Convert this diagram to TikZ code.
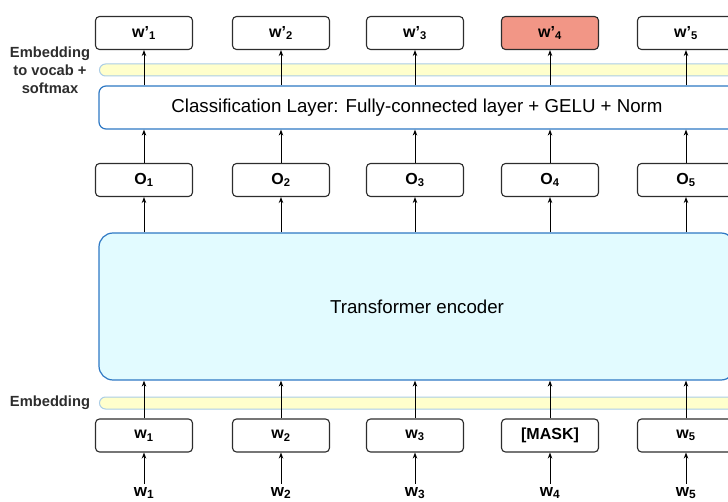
\documentclass[tikz,border=0pt]{standalone}
\usepackage{fontspec}
\setmainfont{Liberation Sans}
\usetikzlibrary{arrows.meta, positioning}
\definecolor{boxgray}{RGB}{45,45,45}
\definecolor{edgeblue}{RGB}{46,120,196}
\definecolor{bandblue}{RGB}{170,205,230}
\definecolor{bandyellow}{RGB}{255,255,204}
\definecolor{encfill}{RGB}{226,251,255}
\definecolor{maskred}{RGB}{242,150,134}

\begin{document}
\begin{tikzpicture}[x=1pt, y=-1pt, >={Stealth[length=6pt, width=4.5pt]},
  tok/.style={draw=boxgray, line width=1.1pt, fill=white, rounded corners=4pt,
    minimum width=97pt, minimum height=33pt, inner sep=0pt,
    font=\bfseries\fontsize{16}{18}\selectfont},
  layer/.style={draw=edgeblue, line width=1.2pt, fill=white, rounded corners=7pt,
    minimum width=636pt, inner sep=0pt, font=\fontsize{18.7}{22}\selectfont},
  band/.style={draw=bandblue, line width=1pt, fill=bandyellow, rounded corners=6pt,
    minimum width=650pt, minimum height=12pt, inner sep=0pt},
  side/.style={align=center, text=boxgray, font=\bfseries\fontsize{14.7}{18}\selectfont},
  link/.style={->, line width=0.9pt, draw=black}]
  \useasboundingbox (0,0) rectangle (728,502);
  \clip (0,0) rectangle (728,502);

  % bands and big layers
  \node[band, anchor=west] (topband) at (99,70) {};
  \node[band, anchor=west] (botband) at (99,403) {};
  \node[layer, minimum height=43pt] (cls) at (417,107.5)
    {Classification Layer: Fully-connected layer + GELU + Norm};
  \node[layer, fill=encfill, minimum height=147pt, rounded corners=14pt] (enc) at (417,306.5)
    {Transformer encoder};

  % side labels
  \node[side] (lbltop) at (50,70) {Embedding\\to vocab +\\softmax};
  \node[side] (lblbot) at (50,403) {Embedding};

  % token columns
  \foreach \i/\x in {1/144,2/281,3/415,4/550,5/686} {
    \ifnum\i=4
      \node[tok, fill=maskred] (out\i) at (\x,33) {w\textquoteright\textsubscript{\i}};
      \node[tok] (in\i) at (\x,435.5) {[MASK]};
    \else
      \node[tok] (out\i) at (\x,33) {w\textquoteright\textsubscript{\i}};
      \node[tok] (in\i) at (\x,435.5) {w\textsubscript{\i}};
    \fi
    \node[tok] (o\i) at (\x,180) {O\textsubscript{\i}};
    \node[anchor=base, inner sep=3pt, font=\bfseries\fontsize{17}{18}\selectfont]
      (w\i) at (\x,496) {w\textsubscript{\i}};
    \draw[link] (w\i.north) -- (in\i.south);
    \draw[link] (in\i.north) -- (in\i.north |- enc.south);
    \draw[link] (o\i.south |- enc.north) -- (o\i.south);
    \draw[link] (o\i.north) -- (o\i.north |- cls.south);
    \draw[link] (out\i.south |- cls.north) -- (out\i.south);
  }
\end{tikzpicture}
\end{document}
